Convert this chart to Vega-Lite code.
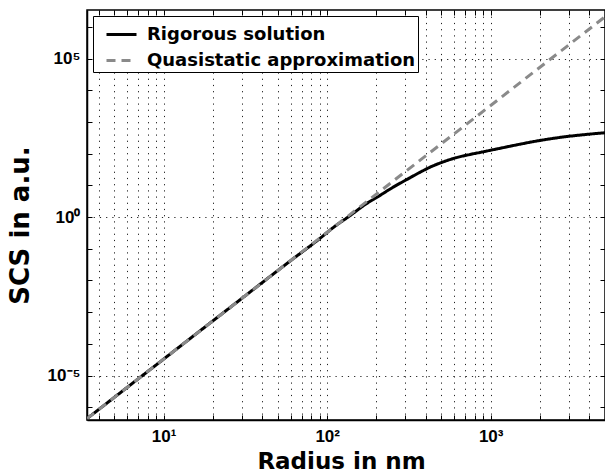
{
  "$schema": "https://vega.github.io/schema/vega-lite/v6.json",
  "width": 518,
  "height": 410,
  "autosize": {"type": "none"},
  "padding": {"left": 87, "top": 10, "right": 0, "bottom": 53},
  "background": "white",
  "config": {
    "view": {"stroke": "black", "strokeWidth": 1.5},
    "font": "Liberation Sans",
    "axis": {
      "domainColor": "black",
      "domainWidth": 1.5,
      "tickColor": "black",
      "tickWidth": 1,
      "tickSize": -5,
      "gridColor": "#222222",
      "gridDash": [1.2, 5],
      "gridWidth": 1,
      "labelFont": "Liberation Sans",
      "labelFontSize": 17,
      "labelFontWeight": "bold",
      "labelColor": "black",
      "labelOverlap": false,
      "labelBound": false,
      "labelFlush": false,
      "titleFont": "DejaVu Sans",
      "titleFontWeight": "bold",
      "titleColor": "black"
    },
    "legend": {
      "orient": "top-left",
      "offset": 6,
      "strokeColor": "black",
      "fillColor": "white",
      "padding": 2,
      "symbolOffset": 10,
      "labelFont": "DejaVu Sans",
      "labelFontSize": 18,
      "labelFontWeight": "bold",
      "labelColor": "black",
      "labelOffset": 9,
      "rowPadding": -3,
      "symbolType": "stroke",
      "symbolSize": 900,
      "symbolStrokeWidth": 3,
      "labelLimit": 400
    }
  },
  "data": {
    "values": [
      {"r": 3.4, "scs": 4.41e-7, "series": "Rigorous solution"},
      {"r": 10, "scs": 3.31e-5, "series": "Rigorous solution"},
      {"r": 30, "scs": 0.00269, "series": "Rigorous solution"},
      {"r": 60, "scs": 0.0427, "series": "Rigorous solution"},
      {"r": 89, "scs": 0.2, "series": "Rigorous solution"},
      {"r": 112, "scs": 0.52, "series": "Rigorous solution"},
      {"r": 136, "scs": 1.05, "series": "Rigorous solution"},
      {"r": 173, "scs": 2.6, "series": "Rigorous solution"},
      {"r": 207, "scs": 4.57, "series": "Rigorous solution"},
      {"r": 251, "scs": 8.51, "series": "Rigorous solution"},
      {"r": 316, "scs": 16.6, "series": "Rigorous solution"},
      {"r": 372, "scs": 26.3, "series": "Rigorous solution"},
      {"r": 437, "scs": 39.8, "series": "Rigorous solution"},
      {"r": 513, "scs": 55.0, "series": "Rigorous solution"},
      {"r": 612, "scs": 74.1, "series": "Rigorous solution"},
      {"r": 741, "scs": 93.3, "series": "Rigorous solution"},
      {"r": 881, "scs": 112, "series": "Rigorous solution"},
      {"r": 1122, "scs": 145, "series": "Rigorous solution"},
      {"r": 1419, "scs": 186, "series": "Rigorous solution"},
      {"r": 1778, "scs": 234, "series": "Rigorous solution"},
      {"r": 2259, "scs": 288, "series": "Rigorous solution"},
      {"r": 2818, "scs": 339, "series": "Rigorous solution"},
      {"r": 3589, "scs": 389, "series": "Rigorous solution"},
      {"r": 5000, "scs": 457, "series": "Rigorous solution"},
      {"r": 3.4, "scs": 4.41e-7, "series": "Quasistatic approximation"},
      {"r": 10, "scs": 3.31e-5, "series": "Quasistatic approximation"},
      {"r": 100, "scs": 0.331, "series": "Quasistatic approximation"},
      {"r": 1000, "scs": 3310, "series": "Quasistatic approximation"},
      {"r": 5000, "scs": 2070000, "series": "Quasistatic approximation"}
    ]
  },
  "layer": [
    {
      "transform": [{"filter": "datum.series == 'Rigorous solution'"}],
      "mark": {"type": "line", "strokeWidth": 3, "strokeCap": "butt", "clip": true, "interpolate": "monotone"},
      "encoding": {
        "x": {
          "field": "r", "type": "quantitative",
          "scale": {"type": "log", "domain": [3.4, 5000], "nice": false},
          "axis": {
            "orient": "bottom",
            "title": "Radius in nm",
            "titleFontSize": 23,
            "titleX": 254,
            "titleY": 48,
            "titleBaseline": "alphabetic",
            "values": [4,5,6,7,8,9,10,20,30,40,50,60,70,80,90,100,200,300,400,500,600,700,800,900,1000,2000,3000,4000],
            "labelExpr": "datum.value == 10 ? '10¹' : datum.value == 100 ? '10²' : datum.value == 1000 ? '10³' : ''",
            "labelPadding": 13,
            "labelBaseline": "top",
            "grid": true
          }
        },
        "y": {
          "field": "scs", "type": "quantitative",
          "scale": {"type": "log", "domain": [3.98e-7, 3.39e6], "nice": false},
          "axis": {
            "orient": "left",
            "title": "SCS in a.u.",
            "titleFontSize": 26,
            "titleX": -67,
            "titleY": 215,
            "titleBaseline": "middle",
            "titleAngle": -90,
            "values": [1e-6, 1e-5, 1e-4, 1e-3, 1e-2, 1e-1, 1, 10, 100, 1000, 10000, 100000, 1000000],
            "labelExpr": "datum.value == 100000 ? '10⁵' : datum.value == 1 ? '10⁰' : datum.value == 1e-5 ? '10⁻⁵' : ''",
            "labelPadding": 12,
            "grid": true,
            "gridOpacity": {"condition": {"test": "datum.value == 100000 || datum.value == 1 || datum.value == 1e-5", "value": 1}, "value": 0}
          }
        },
        "color": {
          "field": "series", "type": "nominal",
          "scale": {"domain": ["Rigorous solution", "Quasistatic approximation"], "range": ["#000000", "#8a8a8a"]},
          "legend": {"title": null, "labelExpr": "datum.label + '   '"}
        },
        "strokeDash": {
          "field": "series", "type": "nominal",
          "scale": {"domain": ["Rigorous solution", "Quasistatic approximation"], "range": [[1, 0], [9, 6]]},
          "legend": {"title": null, "labelExpr": "datum.label + '   '"}
        }
      }
    },
    {
      "transform": [{"filter": "datum.series == 'Quasistatic approximation'"}],
      "mark": {"type": "line", "strokeWidth": 3, "strokeCap": "butt", "clip": true},
      "encoding": {
        "x": {"field": "r", "type": "quantitative", "scale": {"type": "log", "domain": [3.4, 5000], "nice": false}, "axis": null},
        "y": {"field": "scs", "type": "quantitative", "scale": {"type": "log", "domain": [3.98e-7, 3.39e6], "nice": false}, "axis": null},
        "color": {"field": "series", "type": "nominal", "scale": {"domain": ["Rigorous solution", "Quasistatic approximation"], "range": ["#000000", "#8a8a8a"]}, "legend": {"title": null, "labelExpr": "datum.label + '   '"}},
        "strokeDash": {"field": "series", "type": "nominal", "scale": {"domain": ["Rigorous solution", "Quasistatic approximation"], "range": [[1, 0], [9, 6]]}, "legend": {"title": null, "labelExpr": "datum.label + '   '"}}
      }
    },
    {
      "transform": [{"filter": "datum.series == 'Quasistatic approximation'"}],
      "mark": {"type": "line", "opacity": 0},
      "encoding": {
        "x": {
          "field": "r", "type": "quantitative",
          "scale": {"type": "log", "domain": [3.4, 5000], "nice": false},
          "axis": {"orient": "top", "title": null, "labels": false, "grid": false, "domain": false,
            "values": [4,5,6,7,8,9,10,20,30,40,50,60,70,80,90,100,200,300,400,500,600,700,800,900,1000,2000,3000,4000]}
        },
        "y": {
          "field": "scs", "type": "quantitative",
          "scale": {"type": "log", "domain": [3.98e-7, 3.39e6], "nice": false},
          "axis": {"orient": "right", "title": null, "labels": false, "grid": false, "domain": false,
            "values": [1e-6, 1e-5, 1e-4, 1e-3, 1e-2, 1e-1, 1, 10, 100, 1000, 10000, 100000, 1000000]}
        }
      }
    }
  ],
  "resolve": {"axis": {"x": "independent", "y": "independent"}}
}
